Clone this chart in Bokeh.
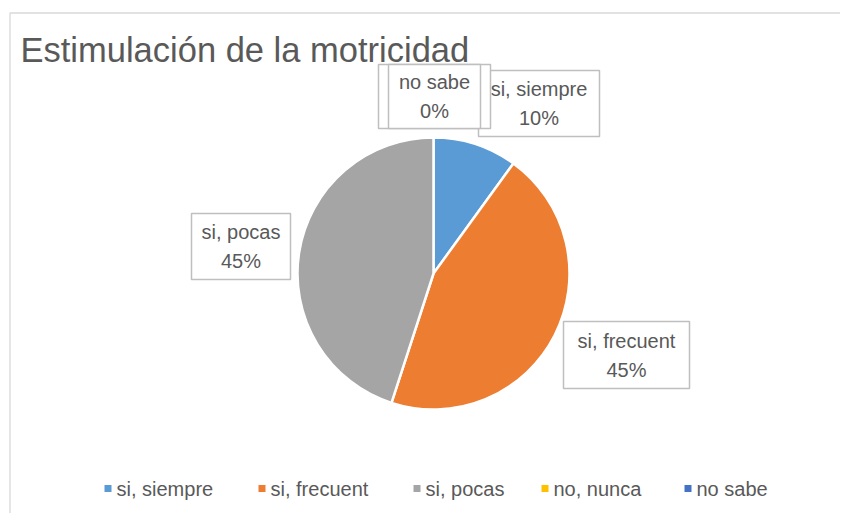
import math
from bokeh.plotting import figure
from bokeh.models import Range1d
from bokeh.core.properties import value
from bokeh.embed import file_html
from bokeh.resources import INLINE

# ---- data ----
title_text = "Estimulación de la motricidad"
categories = ["si, siempre", "si, frecuent", "si, pocas", "no, nunca", "no sabe"]
percents = [10, 45, 45, 0, 0]
colors = ["#5B9BD5", "#ED7D31", "#A5A5A5", "#FFC000", "#4472C4"]

# ---- layout (page pixel coordinates of the reference) ----
W, H = 840, 513
OX, OY = 0, 0


def fx(x):
    return x - OX


def fy(y):
    return (H + OY) - y


FONT = value("Liberation Sans")
TXT = "#595959"

p = figure(width=W, height=H, output_backend="svg", toolbar_location=None,
           x_range=Range1d(0, W), y_range=Range1d(0, H), min_border=0)
p.axis.visible = False
p.grid.visible = False
p.outline_line_color = None
p.background_fill_color = "white"
p.border_fill_color = "white"

# chart frame (left and top edges visible)
p.line(x=[fx(9.5), fx(9.5), fx(900)], y=[fy(600), fy(12.5), fy(12.5)],
       line_color="#D9D9D9", line_width=1.3)

# title
p.text(x=[fx(20)], y=[fy(49)], text=[title_text], text_font=FONT,
       text_font_size="34.5px", text_color=TXT, text_baseline="middle",
       text_align="left")

# pie
cx, cy, r = fx(433), fy(273), 136
total = float(sum(percents))
starts, ends = [], []
acc = 0.0
for v in percents:
    a0 = math.pi / 2 - 2 * math.pi * acc / total
    acc += v
    a1 = math.pi / 2 - 2 * math.pi * acc / total
    starts.append(a0)
    ends.append(a1)
for i in range(len(categories)):
    if percents[i] <= 0:
        continue
    p.wedge(x=[cx], y=[cy], radius=r, start_angle=[starts[i]], end_angle=[ends[i]],
            direction="clock", fill_color=colors[i], line_color="white",
            line_width=2.5)

# data labels: (left, right, top, bottom) boxes in reference pixels; drawn back to front
label_boxes = {
    "si, siempre": (478, 599, 70, 136),
    "si, frecuent": (563, 689, 321, 388),
    "si, pocas": (191, 290, 213, 279),
    "no, nunca": (378, 490, 64, 128),
    "no sabe": (388, 480, 64, 128),
}
order = ["si, frecuent", "si, pocas", "si, siempre", "no, nunca", "no sabe"]
for name in order:
    i = categories.index(name)
    l, rr, t, b = label_boxes[name]
    p.quad(left=[fx(l)], right=[fx(rr)], top=[fy(t)], bottom=[fy(b)],
           fill_color="white", line_color="#BFBFBF", line_width=1.5)
    mx = fx((l + rr) / 2)
    my = (t + b) / 2
    p.text(x=[mx, mx], y=[fy(my - 14.5), fy(my + 14.5)],
           text=[categories[i], f"{percents[i]:.0f}%"], text_font=FONT,
           text_font_size="20px", text_color=TXT, text_align="center",
           text_baseline="middle")

# legend
legend_x = [104, 258, 413, 541, 684]
ly = 488
for i, name in enumerate(categories):
    x0 = legend_x[i]
    p.quad(left=[fx(x0)], right=[fx(x0 + 7)], top=[fy(ly - 3.5)], bottom=[fy(ly + 3.5)],
           fill_color=colors[i], line_color=None)
    p.text(x=[fx(x0 + 12)], y=[fy(ly)], text=[name], text_font=FONT,
           text_font_size="20px", text_color=TXT, text_align="left",
           text_baseline="middle")

open("out.html", "w").write(file_html(p, INLINE))
